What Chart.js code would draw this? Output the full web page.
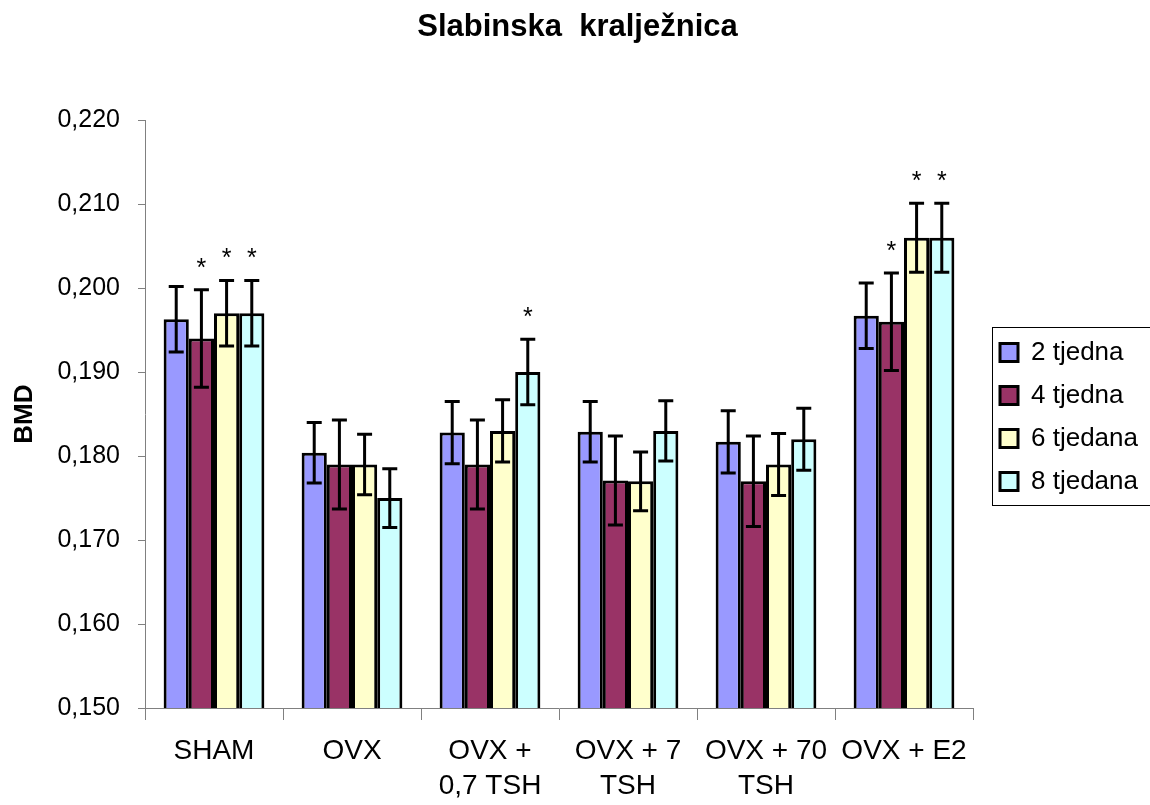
<!DOCTYPE html>
<html>
<head>
<meta charset="utf-8">
<script src="https://cdn.jsdelivr.net/npm/chart.js@4/dist/chart.umd.min.js"></script>
<style>
  html, body { margin: 0; padding: 0; background: #fff; }
  #wrap { width: 1150px; height: 805px; }
</style>
</head>
<body>
<div id="wrap"><canvas id="bmdChart" width="1150" height="805"></canvas></div>
<script>
// Slabinska kraljeznica - BMD po skupinama

let skupine = ['SHAM', 'OVX', ['OVX +', '0,7 TSH'], ['OVX + 7', 'TSH'], ['OVX + 70', 'TSH'], 'OVX + E2'];
let serije = ['2 tjedna', '4 tjedna', '6 tjedana', '8 tjedana'];
let boje = ['#9999FF', '#993366', '#FFFFCC', '#CCFFFF'];

let tj2 = [0.1963, 0.1804, 0.1828, 0.1829, 0.1817, 0.1967];
let tj4 = [0.1940, 0.1790, 0.1790, 0.1771, 0.1770, 0.1960];
let tj6 = [0.1970, 0.1790, 0.1830, 0.1770, 0.1790, 0.2060];
let tj8 = [0.1970, 0.1750, 0.1900, 0.1830, 0.1820, 0.2060];

let sd2 = [0.0039, 0.0036, 0.0037, 0.0036, 0.0037, 0.0039];
let sd4 = [0.0058, 0.0053, 0.0053, 0.0053, 0.0054, 0.0058];
let sd6 = [0.0039, 0.0036, 0.0037, 0.0035, 0.0037, 0.0041];
let sd8 = [0.0039, 0.0035, 0.0039, 0.0036, 0.0037, 0.0041];

// zvjezdice (statisticki znacajno)
let zn2 = [false, false, false, false, false, false];
let zn4 = [true, false, false, false, false, true];
let zn6 = [true, false, false, false, false, true];
let zn8 = [true, false, true, false, false, true];

let yTicks = [0.150, 0.160, 0.170, 0.180, 0.190, 0.200, 0.210, 0.220];

let vrijednosti = [tj2, tj4, tj6, tj8];
let greske = [sd2, sd4, sd6, sd8];
let znacajno = [zn2, zn4, zn6, zn8];

const FONT = 'Liberation Sans, Arial, sans-serif';

let errorBars = {
  id: 'errorBars',
  afterDatasetsDraw(chart) {
    let ctx = chart.ctx;
    let y = chart.scales.y;
    ctx.save();
    ctx.strokeStyle = '#000';
    ctx.fillStyle = '#000';
    ctx.lineWidth = 3;
    ctx.font = '25px ' + FONT;
    ctx.textAlign = 'center';
    ctx.textBaseline = 'middle';
    chart.data.datasets.forEach((ds, i) => {
      let meta = chart.getDatasetMeta(i);
      meta.data.forEach((bar, j) => {
        let v = vrijednosti[i][j], e = greske[i][j];
        let top = y.getPixelForValue(v + e);
        let bot = y.getPixelForValue(v - e);
        let cap = 7.5;
        ctx.beginPath();
        ctx.moveTo(bar.x, top); ctx.lineTo(bar.x, bot);
        ctx.moveTo(bar.x - cap, top); ctx.lineTo(bar.x + cap, top);
        ctx.moveTo(bar.x - cap, bot); ctx.lineTo(bar.x + cap, bot);
        ctx.stroke();
        if (znacajno[i][j]) {
          ctx.fillText('*', bar.x, top - 21);
        }
      });
    });
    ctx.restore();
  }
};

// legenda: fiksna sirina, malo pomaknuta, okvir oko nje
let legendBox = {
  id: 'legendBox',
  beforeLayout(chart) {
    let lg = chart.legend;
    if (!lg || lg._fixedFit) return;
    let orig = lg.fit;
    lg.fit = function () {
      orig.call(this);
      this.width = 177;
    };
    lg._fixedFit = true;
  },
  afterLayout(chart) {
    let lg = chart.legend;
    if (!lg) return;
    lg.left += 10;
    lg.right += 10;
    lg.top += 8;
    lg.bottom += 8;
  },
  afterDraw(chart) {
    let lg = chart.legend;
    if (!lg) return;
    let h = lg.legendHitBoxes;
    if (!h || !h.length) return;
    let ctx = chart.ctx;
    let left = h[0].left - 8;
    let top = h[0].top - 13;
    let bottom = h[h.length - 1].top + h[h.length - 1].height + 10;
    ctx.save();
    ctx.strokeStyle = '#000';
    ctx.lineWidth = 1;
    ctx.strokeRect(Math.round(left) + 0.5, Math.round(top) + 0.5, 300, Math.round(bottom - top));
    ctx.restore();
  }
};

let dataBMD = {
  labels: skupine,
  datasets: serije.map((s, i) => ({
    label: s,
    data: vrijednosti[i],
    backgroundColor: boje[i],
    borderColor: '#000',
    borderWidth: 3,
    borderSkipped: false,
    barPercentage: 1.0,
    categoryPercentage: 0.73
  }))
};

let myChart = new Chart(document.getElementById('bmdChart'), {
  type: 'bar',
  data: dataBMD,
  plugins: [errorBars, legendBox],
  options: {
    responsive: false,
    animation: false,
    devicePixelRatio: 1,
    layout: { padding: { left: 5, right: 0, top: 0, bottom: -13 } },
    plugins: {
      title: {
        display: true,
        text: 'Slabinska  kralježnica',
        color: '#000',
        font: { family: FONT, size: 31, weight: 'bold', lineHeight: 1.2 },
        padding: { top: 9, bottom: 74 }
      },
      legend: {
        position: 'right',
        align: 'center',
        labels: {
          color: '#000',
          font: { family: FONT, size: 26 },
          boxWidth: 18,
          boxHeight: 18,
          padding: 17
        }
      },
      tooltip: { enabled: false }
    },
    scales: {
      x: {
        grid: { offset: true, drawOnChartArea: false, tickLength: 12, color: '#808080', lineWidth: 1 },
        border: { color: '#808080', width: 1 },
        ticks: {
          color: '#000',
          font: { family: FONT, size: 28, lineHeight: 1.25 },
          padding: 14,
          maxRotation: 0,
          autoSkip: false
        }
      },
      y: {
        min: 0.15,
        max: 0.22,
        afterBuildTicks(s) { s.ticks = yTicks.map(v => ({ value: v })); },
        afterFit(s) { s.width = 140; },
        grid: { drawOnChartArea: false, tickLength: 7, color: '#808080' },
        border: { color: '#808080', width: 1 },
        ticks: {
          color: '#000',
          font: { family: FONT, size: 25 },
          padding: 18,
          callback: v => v.toFixed(3).replace('.', ',')
        },
        title: {
          display: true,
          text: 'BMD',
          color: '#000',
          font: { family: FONT, size: 26, weight: 'bold', lineHeight: 1.2 },
          padding: 4
        }
      }
    }
  }
});
</script>
</body>
</html>
